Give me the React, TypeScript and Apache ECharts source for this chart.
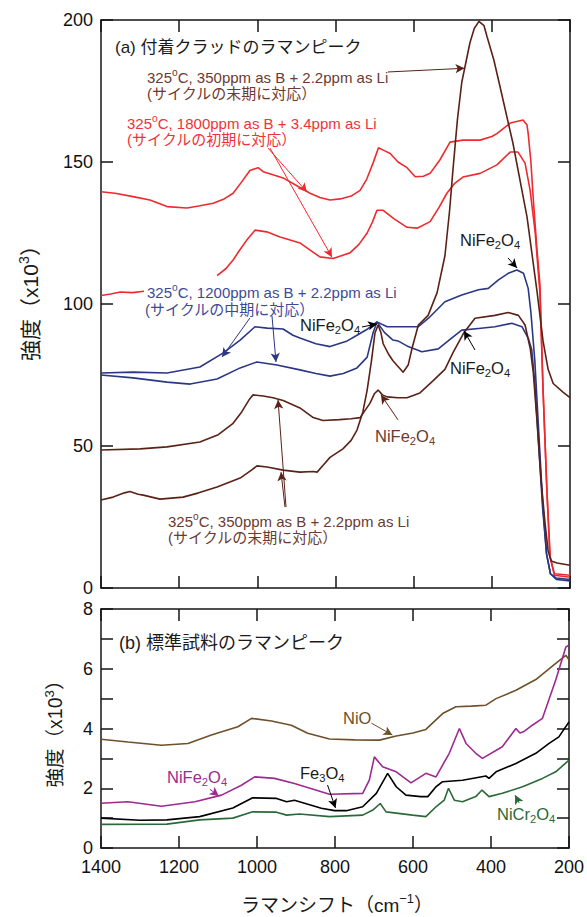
import React, { useEffect, useRef } from 'react';
import * as echarts from 'echarts';

const FONT = "'Liberation Sans', Arial, 'Noto Sans CJK JP', sans-serif";

type Pt = [number, number | string];

// ---------- axis ranges ----------
const X_MIN = 200;
const X_MAX = 1400;
const X_STEP = 200;
const TOP_Y_MAX = 200;
const TOP_Y_STEP = 50;
const BOT_Y_MAX = 8;
const BOT_Y_STEP = 1;

// ---------- (a) deposited crud spectra ----------
const crud350Peak: Pt[] = [
  [1400, 31], [1369, 32], [1340, 33.5], [1326, 34], [1305, 33], [1292, 32.7], [1249, 31.3], [1190, 32],
  [1150, 33.5], [1103, 35.6], [1044, 38.7], [1015, 41.5], [1001, 43], [975, 42.6], [934, 41.5], [891, 40.8],
  [857, 41], [847, 40.8], [830, 43.5], [814, 46], [781, 49], [760, 52], [745, 55.6], [730, 62], [719, 69.7],
  [708, 80], [699, 89.8], [691, 92.6], [684, 90], [678, 86], [665, 82.5], [653, 80], [640, 78], [627, 76],
  [614, 78.5], [604, 84.5], [588, 92.6], [563, 96], [540, 104], [520, 117], [508, 133], [499, 148], [488, 165],
  [477, 178], [456, 192], [445, 197], [433, 199.5], [420, 198], [412, 194], [395, 186], [379, 176.5],
  [346, 156.6], [310, 130.7], [284, 104], [269, 87], [256, 77], [243, 72], [218, 69], [200, 67],
];

const crud350Hump: Pt[] = [
  [1400, 48.6], [1300, 49], [1231, 49.7], [1147, 51.4], [1100, 54], [1062, 58], [1040, 62], [1020, 66.5],
  [1011, 68], [985, 67.6], [960, 67], [934, 66], [891, 63.4], [857, 60], [832, 59], [790, 59.3], [760, 59.6],
  [737, 60], [712, 65], [700, 68.5], [691, 69.7], [680, 68], [668, 67.3], [640, 67], [617, 67], [584, 68.7],
  [550, 73], [520, 77], [499, 83], [471, 90], [443, 95], [392, 96], [358, 97], [332, 96], [315, 92.6],
  [302, 84.5], [294, 76], [284, 58], [274, 38], [264, 23], [256, 13], [248, 9.5], [233, 8.8], [200, 8],
];

const crud1800Upper: Pt[] = [
  [1400, 139.5], [1364, 139], [1318, 137.8], [1275, 136.6], [1231, 134.3], [1180, 133.8], [1150, 134.5],
  [1113, 135.5], [1085, 137], [1062, 139], [1040, 143], [1019, 147], [998, 148], [985, 146.6], [960, 145.5],
  [934, 144.4], [891, 141], [865, 139], [840, 137.5], [814, 136.6], [788, 137], [760, 138], [737, 140],
  [720, 144], [704, 149.6], [690, 155], [675, 154], [660, 153], [640, 150], [617, 148], [596, 144.8],
  [575, 145], [558, 146], [533, 150.7], [507, 157], [474, 157.7], [430, 157.7], [400, 159], [387, 160],
  [353, 163.7], [320, 164.8], [310, 163], [307, 160], [300, 150], [294, 137], [285, 120], [277, 107],
  [269, 70], [259, 34], [251, 11], [240, 5], [200, 4.5],
];

const crud1800Lower: Pt[] = [
  [1400, 103], [1375, 103.5], [1350, 104.2], [1320, 104], [1290, 104.5], [1200, '-'], [1103, 110],
  [1080, 112.5], [1062, 115.5], [1045, 119], [1027, 122.5], [1006, 126], [976, 125.4], [942, 123.6],
  [916, 122.5], [891, 121.5], [865, 119], [840, 116.6], [806, 116], [785, 117], [763, 118], [740, 121],
  [719, 125], [705, 129], [694, 133], [678, 133], [650, 130], [617, 127], [591, 126.7], [558, 129],
  [535, 134], [515, 139], [495, 142.5], [474, 144.7], [430, 146], [387, 149], [353, 153.5], [333, 153.5],
  [315, 149.6], [302, 140], [289, 125], [277, 104], [269, 70], [259, 34], [251, 11], [240, 4.5], [200, 3.8],
];

const crud1200Upper: Pt[] = [
  [1400, 75.7], [1318, 76], [1231, 75.7], [1147, 77.8], [1088, 82.7], [1044, 87.3], [1006, 92], [975, 91.5],
  [934, 91.2], [909, 89], [891, 88], [850, 86], [814, 85], [770, 87], [745, 89], [720, 91], [694, 93.7],
  [668, 92], [648, 92], [588, 92], [562, 95], [520, 100.8], [477, 103.2], [434, 105], [409, 105.5],
  [383, 108.5], [358, 110.8], [336, 112], [319, 110.8], [307, 105.5], [300, 97], [290, 80], [280, 55],
  [270, 30], [260, 12], [250, 5], [235, 3], [200, 2.5],
];

const crud1200Lower: Pt[] = [
  [1400, 75], [1318, 74], [1231, 72.5], [1172, 71.8], [1103, 73.6], [1044, 77.5], [1001, 79.6], [950, 78.5],
  [891, 76.8], [850, 75.5], [814, 74.6], [780, 75.5], [745, 77.5], [719, 81.3], [704, 89.8], [694, 93.7],
  [675, 90], [653, 87.3], [640, 87], [614, 85], [579, 83.2], [537, 84.2], [503, 88], [477, 90.8], [434, 91.4],
  [392, 92], [349, 93.2], [323, 92], [307, 88], [298, 84], [290, 72], [280, 50], [270, 28], [260, 12],
  [250, 5], [235, 3.5], [200, 3],
];

// ---------- (b) reference samples ----------
const refNiO: Pt[] = [
  [1400, 3.64], [1331, 3.55], [1245, 3.44], [1177, 3.5], [1117, 3.78], [1049, 4.06], [1014, 4.34], [963, 4.25],
  [912, 4.11], [870, 3.84], [814, 3.65], [750, 3.62], [686, 3.61], [643, 3.75], [600, 3.85], [567, 3.97],
  [524, 4.5], [490, 4.73], [450, 4.75], [413, 4.78], [387, 5.0], [336, 5.28], [285, 5.64], [234, 6.18],
  [208, 6.45], [200, 6.3],
];

const refNiFe2O4: Pt[] = [
  [1400, 1.5], [1331, 1.55], [1245, 1.4], [1159, 1.55], [1091, 1.77], [1040, 2.1], [1006, 2.38], [955, 2.33],
  [904, 2.16], [835, 1.88], [814, 1.8], [729, 1.83], [712, 2.27], [699, 3.05], [678, 2.72], [643, 2.55],
  [605, 2.18], [567, 2.5], [541, 2.38], [507, 3.17], [481, 4.0], [464, 3.5], [439, 3.17], [422, 3.0],
  [371, 3.39], [336, 4.0], [326, 3.85], [315, 3.9], [294, 4.11], [268, 4.34], [234, 5.62], [208, 6.73],
  [200, 6.79],
];

const refFe3O4: Pt[] = [
  [1400, 1.0], [1300, 0.93], [1231, 0.94], [1147, 1.05], [1062, 1.34], [1011, 1.68], [950, 1.66], [924, 1.55],
  [904, 1.6], [835, 1.33], [801, 1.25], [771, 1.25], [729, 1.38], [694, 1.83], [665, 2.5], [643, 2.05],
  [618, 1.77], [580, 1.72], [562, 1.72], [541, 2.05], [524, 2.22], [473, 2.27], [413, 2.41], [405, 2.33],
  [387, 2.55], [336, 2.83], [285, 3.17], [251, 3.5], [226, 3.72], [200, 4.22],
];

const refNiCr2O4: Pt[] = [
  [1400, 0.79], [1231, 0.8], [1147, 0.94], [1062, 1.0], [1011, 1.21], [950, 1.2], [924, 1.1], [891, 1.14],
  [814, 1.05], [729, 1.1], [703, 1.27], [684, 1.49], [669, 1.21], [601, 1.1], [567, 1.05], [541, 1.38],
  [520, 1.6], [509, 2.0], [494, 1.6], [473, 1.55], [439, 1.72], [423, 1.94], [405, 1.72], [371, 1.83],
  [319, 2.05], [268, 2.33], [234, 2.55], [200, 2.94],
];

// ---------- colours ----------
const C_RED = '#ee2a2e';
const C_BROWN = '#5a2216';
const C_BLUE = '#2b3784';
const C_NIO = '#6e5029';
const C_MAG = '#9d2a8f';
const C_BLACK = '#000000';
const C_GREEN = '#2b6a38';
const T_BROWN = '#6b3a30';
const T_RED = '#ee3338';
const T_BLUE = '#3d4a9a';
const T_BLACK = '#1a1a1a';

// ---------- annotation arrows (data coordinates: from -> to) ----------
const topArrows: { from: [number, number]; to: [number, number]; color: string }[] = [
  { from: [665.7, 181.7], to: [470, 183], color: C_BROWN },
  { from: [972.7, 154.9], to: [873, 139.4], color: C_RED },
  { from: [967.6, 154.9], to: [809, 116.5], color: C_RED },
  { from: [1018.8, 95.1], to: [1090.4, 81.3], color: C_BLUE },
  { from: [962.5, 95.8], to: [952.2, 79.6], color: C_BLUE },
  { from: [732.2, 91.9], to: [693.8, 93.0], color: C_BLACK },
  { from: [358.6, 116.2], to: [335.6, 112.7], color: C_BLACK },
  { from: [443, 83.8], to: [471.2, 90.5], color: C_BLACK },
  { from: [640, 59.2], to: [683.6, 68.0], color: C_BROWN },
  { from: [926.6, 28.5], to: [947, 66.2], color: C_BROWN },
  { from: [929.2, 28.5], to: [939.4, 40.8], color: C_BROWN },
];

const bottomArrows: { from: [number, number]; to: [number, number]; color: string }[] = [
  { from: [706.6, 4.18], to: [652.9, 3.78], color: C_NIO },
  { from: [1121.1, 1.97], to: [1098, 1.74], color: C_MAG },
  { from: [819.2, 2.11], to: [798.7, 1.34], color: C_BLACK },
  { from: [328, 1.51], to: [338.2, 1.77], color: C_GREEN },
];

function rich(size: number, color: string) {
  const small = Math.round(size * 0.68 * 10) / 10;
  return {
    n: { fontSize: size, fill: color, fontFamily: FONT, lineHeight: Math.round(size * 1.3) },
    s: { fontSize: small, fill: color, fontFamily: FONT, lineHeight: small, verticalAlign: 'bottom' },
    u: { fontSize: small, fill: color, fontFamily: FONT, lineHeight: small, verticalAlign: 'top' },
  };
}

function label(text: string, x: number, y: number, size: number, color: string, align = 'left', rotation = 0) {
  return {
    type: 'text',
    x,
    y,
    rotation,
    silent: true,
    z: 10,
    style: {
      text,
      rich: rich(size, color),
      fill: color,
      fontSize: size,
      fontFamily: FONT,
      align,
      verticalAlign: 'middle',
    },
  };
}

function arrowLine(arrows: { from: [number, number]; to: [number, number]; color: string }[]) {
  return {
    silent: true,
    symbol: ['none', 'arrow'],
    symbolSize: [7, 9],
    label: { show: false },
    emphasis: { disabled: true },
    animation: false,
    data: arrows.map((a) => [
      { coord: a.from, lineStyle: { color: a.color, width: 1, type: 'solid' }, itemStyle: { color: a.color } },
      { coord: a.to, lineStyle: { color: a.color, width: 1, type: 'solid' }, itemStyle: { color: a.color } },
    ]),
  };
}

const FRAME = '#141414';

function xAxis(gridIndex: number, position: 'top' | 'bottom', showLabel: boolean) {
  return {
    type: 'value',
    gridIndex,
    position,
    min: X_MIN,
    max: X_MAX,
    interval: X_STEP,
    inverse: true,
    axisLine: { show: true, onZero: false, lineStyle: { color: FRAME, width: 1.5 } },
    axisTick: { show: true, inside: true, length: 12, lineStyle: { color: FRAME, width: 1.5 } },
    axisLabel: {
      show: showLabel,
      color: '#111',
      fontSize: 18,
      fontFamily: FONT,
      margin: 10,
      formatter: (v: number) => String(v),
    },
    splitLine: { show: false },
  };
}

function yAxis(gridIndex: number, position: 'left' | 'right', max: number, step: number, showLabel: boolean, evenOnly: boolean) {
  return {
    type: 'value',
    gridIndex,
    position,
    min: 0,
    max,
    interval: step,
    axisLine: { show: true, onZero: false, lineStyle: { color: FRAME, width: 1.5 } },
    axisTick: { show: true, inside: true, length: 12, lineStyle: { color: FRAME, width: 1.5 } },
    axisLabel: {
      show: showLabel,
      color: '#111',
      fontSize: 18,
      fontFamily: FONT,
      margin: 8,
      formatter: (v: number) => (evenOnly && v % 2 !== 0 ? '' : String(v)),
    },
    splitLine: { show: false },
  };
}

function line(data: Pt[], color: string, grid: number, extra: any = {}) {
  return {
    type: 'line',
    data,
    xAxisIndex: grid * 2,
    yAxisIndex: grid * 2,
    showSymbol: false,
    symbol: 'none',
    connectNulls: false,
    silent: true,
    lineStyle: { color, width: 1.6 },
    itemStyle: { color },
    z: 2,
    ...extra,
  };
}

export default function App() {
  const ref = useRef<HTMLDivElement>(null);

  useEffect(() => {
    if (!ref.current) return;
    const chart = echarts.init(ref.current, undefined, { renderer: 'svg' });
    const option: any = {
      animation: false,
      backgroundColor: '#ffffff',
      textStyle: { fontFamily: FONT },
      grid: [
        { left: 101, top: 20, width: 469, height: 568 },
        { left: 101, top: 609, width: 469, height: 239 },
      ],
      xAxis: [xAxis(0, 'bottom', false), xAxis(0, 'top', false), xAxis(1, 'bottom', true), xAxis(1, 'top', false)],
      yAxis: [
        yAxis(0, 'left', TOP_Y_MAX, TOP_Y_STEP, true, false),
        yAxis(0, 'right', TOP_Y_MAX, TOP_Y_STEP, false, false),
        yAxis(1, 'left', BOT_Y_MAX, BOT_Y_STEP, true, true),
        yAxis(1, 'right', BOT_Y_MAX, BOT_Y_STEP, false, false),
      ],
      series: [
        line(crud1800Upper, C_RED, 0, { markLine: arrowLine(topArrows) }),
        line(crud1800Lower, C_RED, 0),
        line(crud1200Upper, C_BLUE, 0),
        line(crud1200Lower, C_BLUE, 0),
        line(crud350Hump, C_BROWN, 0),
        line(crud350Peak, C_BROWN, 0),
        line(refNiO, C_NIO, 1, { markLine: arrowLine(bottomArrows) }),
        line(refNiFe2O4, C_MAG, 1),
        line(refFe3O4, C_BLACK, 1),
        line(refNiCr2O4, C_GREEN, 1),
      ],
      graphic: [
        label('{n|(a) 付着クラッドのラマンピーク}', 115, 47, 17, T_BLACK),
        label('{n|325}{u|o}{n|C, 350ppm as B + 2.2ppm as Li}', 147, 77, 15, T_BROWN),
        label('{n|(サイクルの末期に対応）}', 147, 93, 15, T_BROWN),
        label('{n|325}{u|o}{n|C, 1800ppm as B + 3.4ppm as Li}', 127, 123, 15, T_RED),
        label('{n|(サイクルの初期に対応）}', 127, 139, 15, T_RED),
        label('{n|325}{u|o}{n|C, 1200ppm as B + 2.2ppm as Li}', 147, 292, 15, T_BLUE),
        label('{n|(サイクルの中期に対応）}', 145, 309, 15, T_BLUE),
        label('{n|NiFe}{s|2}{n|O}{s|4}', 300, 325, 16.5, T_BLACK),
        label('{n|NiFe}{s|2}{n|O}{s|4}', 460, 240, 16.5, T_BLACK),
        label('{n|NiFe}{s|2}{n|O}{s|4}', 450, 368, 16.5, T_BLACK),
        label('{n|NiFe}{s|2}{n|O}{s|4}', 375, 436, 16.5, T_BROWN),
        label('{n|325}{u|o}{n|C, 350ppm as B + 2.2ppm as Li}', 168, 521, 15, T_BROWN),
        label('{n|(サイクルの末期に対応）}', 168, 537, 15, T_BROWN),
        label('{n|(b) 標準試料のラマンピーク}', 119, 643, 18, T_BLACK),
        label('{n|NiO}', 343, 718, 16.5, C_NIO),
        label('{n|NiFe}{s|2}{n|O}{s|4}', 167, 777, 16.5, C_MAG),
        label('{n|Fe}{s|3}{n|O}{s|4}', 300, 773, 16.5, T_BLACK),
        label('{n|NiCr}{s|2}{n|O}{s|4}', 497, 814, 16.5, C_GREEN),
        label('{n|強度（x10}{u|3}{n|）}', 30, 298, 21, T_BLACK, 'center', Math.PI / 2),
        label('{n|強度（x10}{u|3}{n|）}', 55, 729, 19.5, T_BLACK, 'center', Math.PI / 2),
        label('{n|ラマンシフト（cm}{u|−1}{n|）}', 337, 905, 19, T_BLACK, 'center'),
      ],
    };
    chart.setOption(option);
    return () => {
      chart.dispose();
    };
  }, []);

  return (
    <div
      ref={ref}
      style={{ position: 'absolute', left: 0, top: 0, width: 587, height: 917, background: '#fff' }}
    />
  );
}
